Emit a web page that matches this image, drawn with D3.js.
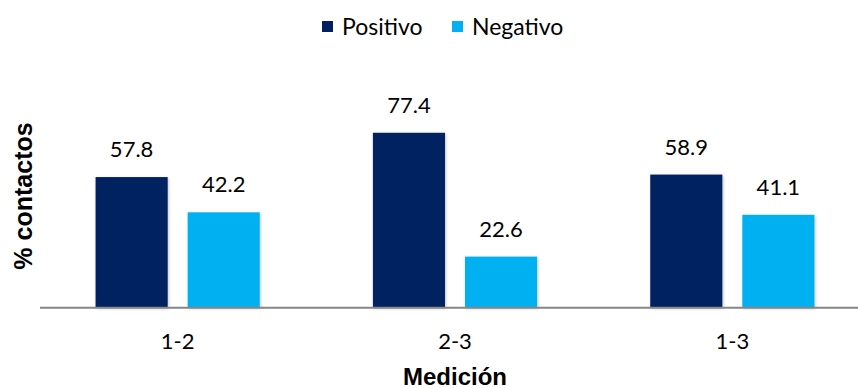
<!DOCTYPE html>
<html>
<head>
<meta charset="utf-8">
<script src="https://cdn.jsdelivr.net/npm/d3@7"></script>
<style>
  html, body { margin: 0; padding: 0; background: #fff; }
  svg { display: block; }
</style>
</head>
<body>
<svg id="chart" width="858" height="388"></svg>
<script>
// Chart data
const categories = ["1-2", "2-3", "1-3"];
const seriesNames = ["Positivo", "Negativo"];
const positivo = [57.8, 77.4, 58.9];
const negativo = [42.2, 22.6, 41.1];
const colors = ["#002060", "#00B0F0"];

const seriesValues = [positivo, negativo];
const rows = categories.map((c, i) => ({
  category: c,
  values: seriesNames.map((s, j) => ({ series: s, value: seriesValues[j][i] }))
}));

const svg = d3.select("#chart");
const W = 858, H = 388;
const baseY = 307.7;

const x0 = d3.scaleBand()
  .domain(categories)
  .range([39, 871])
  .paddingInner(0.408)
  .paddingOuter(0.204);

const x1 = d3.scaleBand()
  .domain(seriesNames)
  .range([0, x0.bandwidth()])
  .paddingInner(0.217)
  .paddingOuter(0);

const y = d3.scaleLinear().domain([0, 100]).range([baseY, 81.7]);

const color = d3.scaleOrdinal().domain(seriesNames).range(colors);

// soft shadow around bars
const defs = svg.append("defs");
const f = defs.append("filter").attr("id", "shadow")
  .attr("x", "-10%").attr("y", "-10%").attr("width", "125%").attr("height", "125%");
f.append("feDropShadow")
  .attr("dx", 1).attr("dy", 1).attr("stdDeviation", 1.6)
  .attr("flood-color", "#000").attr("flood-opacity", 0.22);

const groups = svg.append("g").selectAll("g")
  .data(rows).join("g")
  .attr("transform", d => `translate(${x0(d.category)},0)`);

groups.selectAll("rect")
  .data(d => d.values).join("rect")
  .attr("x", d => x1(d.series))
  .attr("y", d => y(d.value))
  .attr("width", x1.bandwidth())
  .attr("height", d => baseY - y(d.value))
  .attr("fill", d => color(d.series))
  .attr("filter", "url(#shadow)");

// value labels
groups.selectAll("text.val")
  .data(d => d.values).join("text")
  .attr("class", "val")
  .attr("x", d => x1(d.series) + x1.bandwidth() / 2)
  .attr("y", d => y(d.value) - 20)
  .attr("text-anchor", "middle")
  .attr("font-family", "Lato, 'Open Sans', sans-serif")
  .attr("font-size", 22)
  .attr("fill", "#000")
  .text(d => d.value.toFixed(1));

// x axis
const xAxis = d3.axisBottom(x0).tickSize(0).tickPadding(0);
const axisG = svg.append("g")
  .attr("transform", `translate(0,${baseY})`)
  .call(xAxis);
axisG.select(".domain").remove();
axisG.append("line")
  .attr("x1", 40).attr("x2", W)
  .attr("y1", 0).attr("y2", 0)
  .attr("stroke", "#868686").attr("stroke-width", 2);
axisG.selectAll(".tick text")
  .attr("y", 41)
  .attr("dy", 0)
  .attr("font-family", "Lato, 'Open Sans', sans-serif")
  .attr("font-size", 22)
  .attr("fill", "#000");

// axis titles
svg.append("text")
  .attr("x", x0(categories[1]) + x0.bandwidth() / 2)
  .attr("y", 385)
  .attr("text-anchor", "middle")
  .attr("font-family", "'Liberation Sans', Arial, sans-serif")
  .attr("font-weight", "bold")
  .attr("font-size", 24)
  .attr("fill", "#000")
  .text("Medición");

svg.append("text")
  .attr("transform", "translate(32,196) rotate(-90)")
  .attr("text-anchor", "middle")
  .attr("font-family", "'Liberation Sans', Arial, sans-serif")
  .attr("font-weight", "bold")
  .attr("font-size", 25)
  .attr("fill", "#000")
  .text("% contactos");

// legend
const legendX = [322, 452];
const legend = svg.append("g").selectAll("g")
  .data(seriesNames).join("g")
  .attr("transform", (d, i) => `translate(${legendX[i]},21)`);
legend.append("rect")
  .attr("width", 11).attr("height", 11)
  .attr("fill", d => color(d));
legend.append("text")
  .attr("x", 20).attr("y", 14)
  .attr("font-family", "Lato, 'Open Sans', sans-serif")
  .attr("font-size", 23)
  .attr("fill", "#000")
  .text(d => d);
</script>
</body>
</html>
